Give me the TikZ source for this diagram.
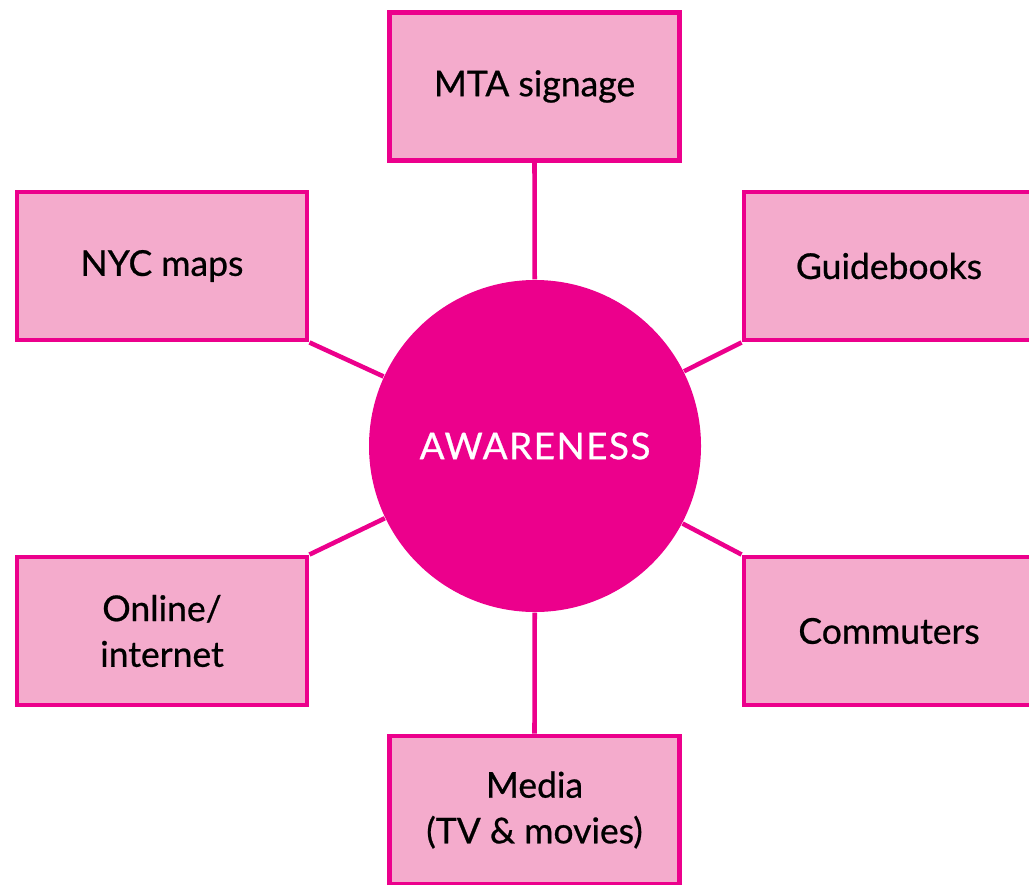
\documentclass[tikz,border=0pt]{standalone}
\usepackage{fontspec}
\setmainfont{Lato}[FakeBold=0.7]
\usepackage{tikz}
\usetikzlibrary{positioning}

\definecolor{awmagenta}{HTML}{EC008C}
\definecolor{awpink}{HTML}{F4ABCC}

\begin{document}
\begin{tikzpicture}[
    box/.style={draw=awmagenta, fill=awpink, line width=1.4pt, minimum width=2.9cm, minimum height=1.48cm, align=center, font=\fontsize{10.1}{13}\selectfont\addfontfeature{FakeBold=0.7}},
    hub/.style={circle, fill=awmagenta, minimum size=3.32cm, text=white, font=\fontsize{10.5}{13}\selectfont},
    link/.style={draw=awmagenta, line width=1.3pt}
  ]
  \useasboundingbox (0, 0) rectangle (10.29, -8.84);

  % centre
  \node[hub] (aware) at (5.35, -4.46) {\addfontfeature{LetterSpace=4}AWARENESS};

  % outer boxes
  \node[box] (mta) at (5.345, -0.865) {MTA signage};
  \node[box] (nyc) at (1.62, -2.66) {NYC maps};
  \node[box] (guide) at (8.89, -2.66) {Guidebooks};
  \node[box] (online) at (1.62, -6.31) {Online/\\internet};
  \node[box] (comm) at (8.89, -6.31) {Commuters};
  \node[box] (media) at (5.345, -8.10) {Media\\(TV \& movies)};

  % links
  \draw[link] (mta.south) -- (aware);
  \draw[link] (nyc.south east) -- (aware);
  \draw[link] (guide.south west) -- (aware);
  \draw[link] (online.north east) -- (aware);
  \draw[link] (comm.north west) -- (aware);
  \draw[link] (media.north) -- (aware);
\end{tikzpicture}
\end{document}
